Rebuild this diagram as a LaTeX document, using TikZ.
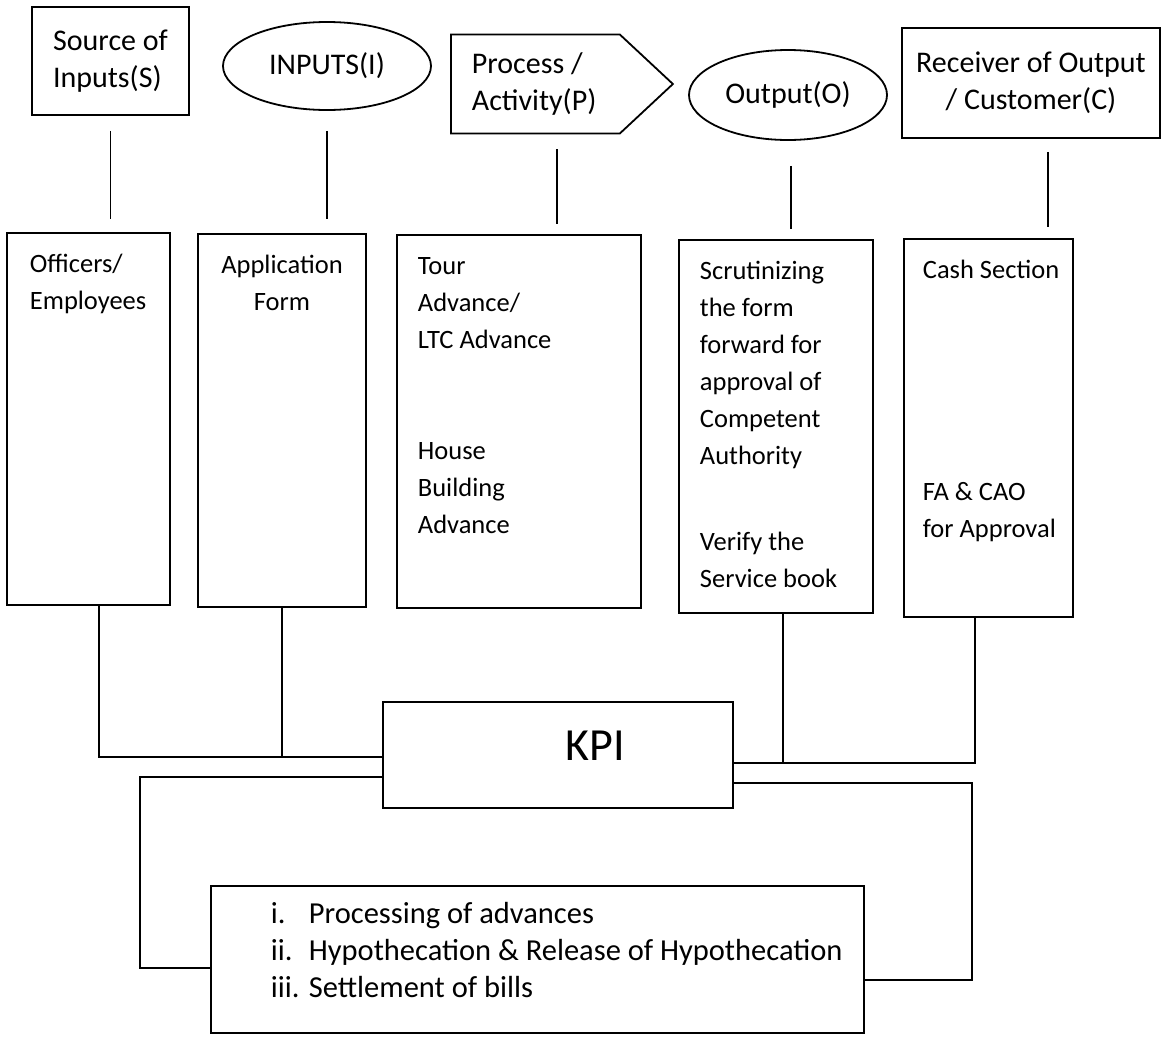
\documentclass[tikz,border=0pt]{standalone}
\usepackage{fontspec}
\setmainfont{Carlito}
\usepackage{tikz}
\usetikzlibrary{shapes.geometric, shapes.symbols, calc}
\newcommand{\headfont}{\fontsize{30}{37}\selectfont}
\newcommand{\boxfont}{\fontsize{26.5}{37}\selectfont}
\newcommand{\listfont}{\fontsize{30.5}{37}\selectfont}
\newcommand{\kpifont}{\fontsize{46}{56}\selectfont}
\newcommand{\lines}[2][l]{\begin{tabular}[t]{@{}#1@{}}#2\end{tabular}}
\tikzset{
    headbox/.style={rectangle, draw, inner sep=0pt, font=\headfont}, % boxes and ovals of the top row
    headoval/.style={ellipse, draw, inner sep=0pt, font=\headfont},
    colbox/.style={rectangle, draw, inner sep=0pt}, % tall boxes, KPI and list box
    coltext/.style={anchor=base west, inner sep=0pt, font=\boxfont},
}

\begin{document}
\begin{tikzpicture}[x=1pt, y=-1pt, line width=1.8pt]
    \fill[white] (0,0) rectangle (1166,1039);
    \useasboundingbox (0,0) rectangle (1166,1039);

    % Nodes: top row
    \node[headbox, minimum width=157pt, minimum height=108pt, align=left] (src) at (110.5,61) {Source of\\Inputs(S)};
    \node[headoval, minimum width=208pt, minimum height=88pt] (inp) at (327,66) {INPUTS(I)};
    \node[signal, signal to=east, signal pointer angle=86, draw, anchor=west, minimum width=222pt, minimum height=99pt] (proc) at (450,84) {};
    \node[coltext, font=\headfont] (proctext) at (471,73) {\lines{Process /\\Activity(P)}};
    \node[headoval, minimum width=198pt, minimum height=90pt] (outp) at (788,95) {Output(O)};
    \node[headbox, minimum width=258pt, minimum height=110pt, align=center] (cust) at (1031,83) {Receiver of Output\\/ Customer(C)};

    % Nodes: tall boxes
    \node[colbox, minimum width=163pt, minimum height=372pt] (off) at (88.5,419) {};
    \node[colbox, minimum width=168pt, minimum height=373pt] (app) at (282,420.5) {};
    \node[colbox, minimum width=244pt, minimum height=373pt] (tour) at (519,421.5) {};
    \node[colbox, minimum width=194pt, minimum height=373pt] (scr) at (776,426.5) {};
    \node[colbox, minimum width=169pt, minimum height=378pt] (cash) at (988.5,428) {};
    \node[coltext] (offtext) at (29,272) {\lines{Officers/\\Employees}};
    \node[coltext, anchor=base] (apptext) at (282,273) {\lines[c]{Application\\Form}};
    \node[coltext] (tourtext) at (417,274) {\lines{Tour\\Advance/\\LTC Advance\\[74pt]House\\Building\\Advance}};
    \node[coltext] (scrtext) at (699,279) {\lines{Scrutinizing\\the form\\forward for\\approval of\\Competent\\Authority\\[49pt]Verify the\\Service book}};
    \node[coltext] (cashtext) at (922,278) {\lines{Cash Section\\[185pt]FA \& CAO\\for Approval}};

    % Nodes: KPI and list
    \node[colbox, minimum width=350pt, minimum height=106pt] (kpi) at (558,755) {};
    \node[font=\kpifont, inner sep=0pt] (kpitext) at (595,746) {KPI};
    \node[colbox, minimum width=653pt, minimum height=147pt] (kra) at (537.5,959.5) {};
    \node[anchor=base west, inner sep=0pt, font=\listfont] (kratext) at (270,923) {%
        \begin{tabular}[t]{@{}p{38pt}@{}l@{}}
            i. & Processing of advances\\
            ii. & Hypothecation \& Release of Hypothecation\\
            iii. & Settlement of bills
        \end{tabular}};

    % Draw lines: top row to tall boxes
    \draw[shorten <=15pt, shorten >=13pt] (src.south) -- (src.south |- off.north);
    \draw[shorten <=20pt, shorten >=14pt] (inp.south) -- (inp.south |- app.north);
    \draw[shorten <=15pt, shorten >=10pt] ([xshift=22pt]proc.south) -- ([xshift=22pt]proc.south |- tour.north);
    \draw[shorten <=25pt, shorten >=10pt] ([xshift=3pt]outp.south) -- ([xshift=3pt]outp.south |- scr.north);
    \draw[shorten <=13pt, shorten >=11pt] ([xshift=17pt]cust.south) -- ([xshift=17pt]cust.south |- cash.north);

    % Draw lines: tall boxes to KPI
    \coordinate (kl) at ([yshift=-2pt]kpi.west);
    \coordinate (kr) at ([yshift=-8pt]kpi.east);
    \draw ([xshift=10.5pt]off.south) |- (kl);
    \draw (app.south) -- (app.south |- kl);
    \draw ([xshift=-13.5pt]cash.south) |- (kr);
    \draw ([xshift=7pt]scr.south) -- ([xshift=7pt]scr.south |- kr);

    % Draw lines: KPI to list
    \coordinate (ll) at (140,968);
    \coordinate (rr) at (972,980);
    \draw ([yshift=-22pt]kpi.west) -| (ll) -- (ll -| kra.west);
    \draw ([yshift=-28pt]kpi.east) -| (rr) -- (rr -| kra.east);
\end{tikzpicture}
\end{document}
